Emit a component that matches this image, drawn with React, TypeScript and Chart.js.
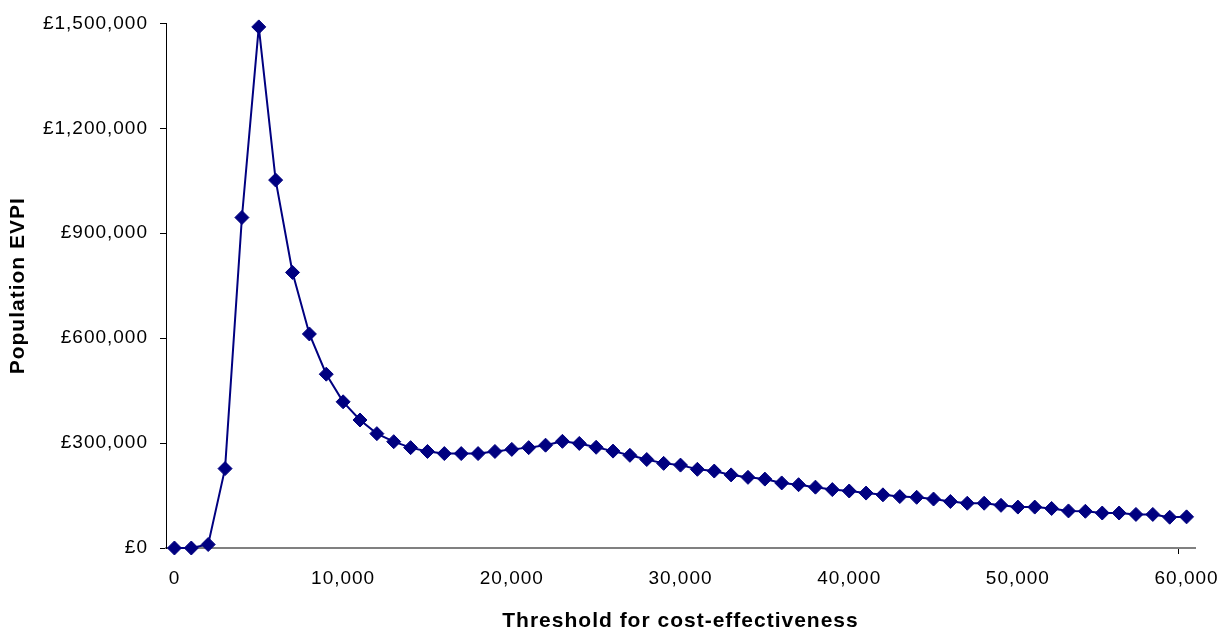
import React, { useEffect, useRef } from "react";
import { Chart, registerables } from "chart.js";

Chart.register(...registerables);

const thresholds: number[] = [
  0, 1000, 2000, 3000, 4000, 5000, 6000, 7000, 8000, 9000,
  10000, 11000, 12000, 13000, 14000, 15000, 16000, 17000, 18000, 19000,
  20000, 21000, 22000, 23000, 24000, 25000, 26000, 27000, 28000, 29000,
  30000, 31000, 32000, 33000, 34000, 35000, 36000, 37000, 38000, 39000,
  40000, 41000, 42000, 43000, 44000, 45000, 46000, 47000, 48000, 49000,
  50000, 51000, 52000, 53000, 54000, 55000, 56000, 57000, 58000, 59000,
  60000,
];

const populationEVPI: number[] = [
  0, 0, 10000, 227000, 945000, 1490000, 1052000, 788000, 612000, 497000,
  418000, 366000, 327000, 304000, 287000, 276000, 270000, 270000, 270000, 276000,
  282000, 287000, 294000, 305000, 299000, 288000, 277000, 265000, 253000, 242000,
  237000, 225000, 220000, 209000, 202000, 197000, 186000, 181000, 174000, 167000,
  163000, 157000, 152000, 147000, 145000, 140000, 133000, 128000, 128000, 122000,
  117000, 117000, 113000, 106000, 105000, 100000, 100000, 96000, 96000, 88000,
  89000,
];

const xLabelEvery = 10;
const xTitle = "Threshold for cost-effectiveness";
const yTitle = "Population EVPI";

const fmtNum = (v: number) =>
  Math.round(v).toString().replace(/\B(?=(\d{3})+(?!\d))/g, ",");

const spacingPlugin = {
  id: "letterSpacing",
  beforeUpdate(chart: any) {
    chart.ctx.letterSpacing = "1px";
  },
  beforeLayout(chart: any) {
    chart.ctx.letterSpacing = "1px";
  },
  beforeDraw(chart: any) {
    chart.ctx.letterSpacing = "1px";
  },
};

export default function App() {
  const ref = useRef<HTMLCanvasElement | null>(null);

  useEffect(() => {
    if (!ref.current) return;
    const chart = new Chart(ref.current, {
      type: "line",
      data: {
        labels: thresholds.map((t) => fmtNum(t)),
        datasets: [
          {
            data: populationEVPI,
            borderColor: "#000080",
            backgroundColor: "#000080",
            borderWidth: 2,
            pointStyle: "rectRot",
            pointRadius: 7,
            pointBorderWidth: 1,
            pointBackgroundColor: "#000080",
            pointBorderColor: "#000080",
            tension: 0,
            fill: false,
            clip: false,
          },
        ],
      },
      options: {
        animation: false,
        responsive: false,
        maintainAspectRatio: false,
        layout: { padding: { top: 19, right: 37, left: 0, bottom: 0 } },
        plugins: {
          legend: { display: false },
          tooltip: { enabled: false },
        },
        scales: {
          x: {
            type: "category",
            offset: true,
            border: { display: true, color: "#808080", width: 2 },
            grid: {
              display: true,
              offset: true,
              drawOnChartArea: false,
              drawTicks: true,
              tickLength: 6,
              tickColor: (ctx: any) =>
                ctx.index === thresholds.length - 1 ? "#000000" : "rgba(0,0,0,0)",
              lineWidth: 1,
            },
            ticks: {
              autoSkip: false,
              maxRotation: 0,
              minRotation: 0,
              padding: 13,
              color: "#000000",
              font: { family: "'Liberation Sans', Arial, sans-serif", size: 19 },
              callback: function (_v: any, i: number) {
                return i % xLabelEvery === 0 ? fmtNum(thresholds[i]) : "";
              },
            },
            title: {
              display: true,
              text: xTitle,
              color: "#000000",
              font: { family: "'Liberation Sans', Arial, sans-serif", size: 21, weight: "bold" },
              padding: { top: 0, bottom: 3 },
            },
            afterFit: (scale: any) => {
              scale.height = 89;
            },
          },
          y: {
            type: "linear",
            min: 0,
            max: 1500000,
            border: { display: true, color: "#000000", width: 1 },
            grid: {
              display: true,
              drawOnChartArea: false,
              drawTicks: true,
              tickLength: 6,
              tickColor: "#000000",
            },
            ticks: {
              stepSize: 300000,
              padding: 12,
              color: "#000000",
              font: { family: "'Liberation Sans', Arial, sans-serif", size: 19 },
              callback: (v: any) => "£" + fmtNum(Number(v)),
            },
            title: {
              display: true,
              text: yTitle,
              color: "#000000",
              font: { family: "'Liberation Sans', Arial, sans-serif", size: 21, weight: "bold" },
              padding: { top: 6, bottom: 0 },
            },
            afterFit: (scale: any) => {
              scale.width = 166;
            },
          },
        },
      },
      plugins: [spacingPlugin],
    });
    return () => chart.destroy();
  }, []);

  return (
    <div
      style={{
        position: "fixed",
        left: 0,
        top: 0,
        width: 1232,
        height: 637,
        background: "#ffffff",
      }}
    >
      <canvas ref={ref} width={1232} height={637} style={{ width: 1232, height: 637 }} />
    </div>
  );
}
